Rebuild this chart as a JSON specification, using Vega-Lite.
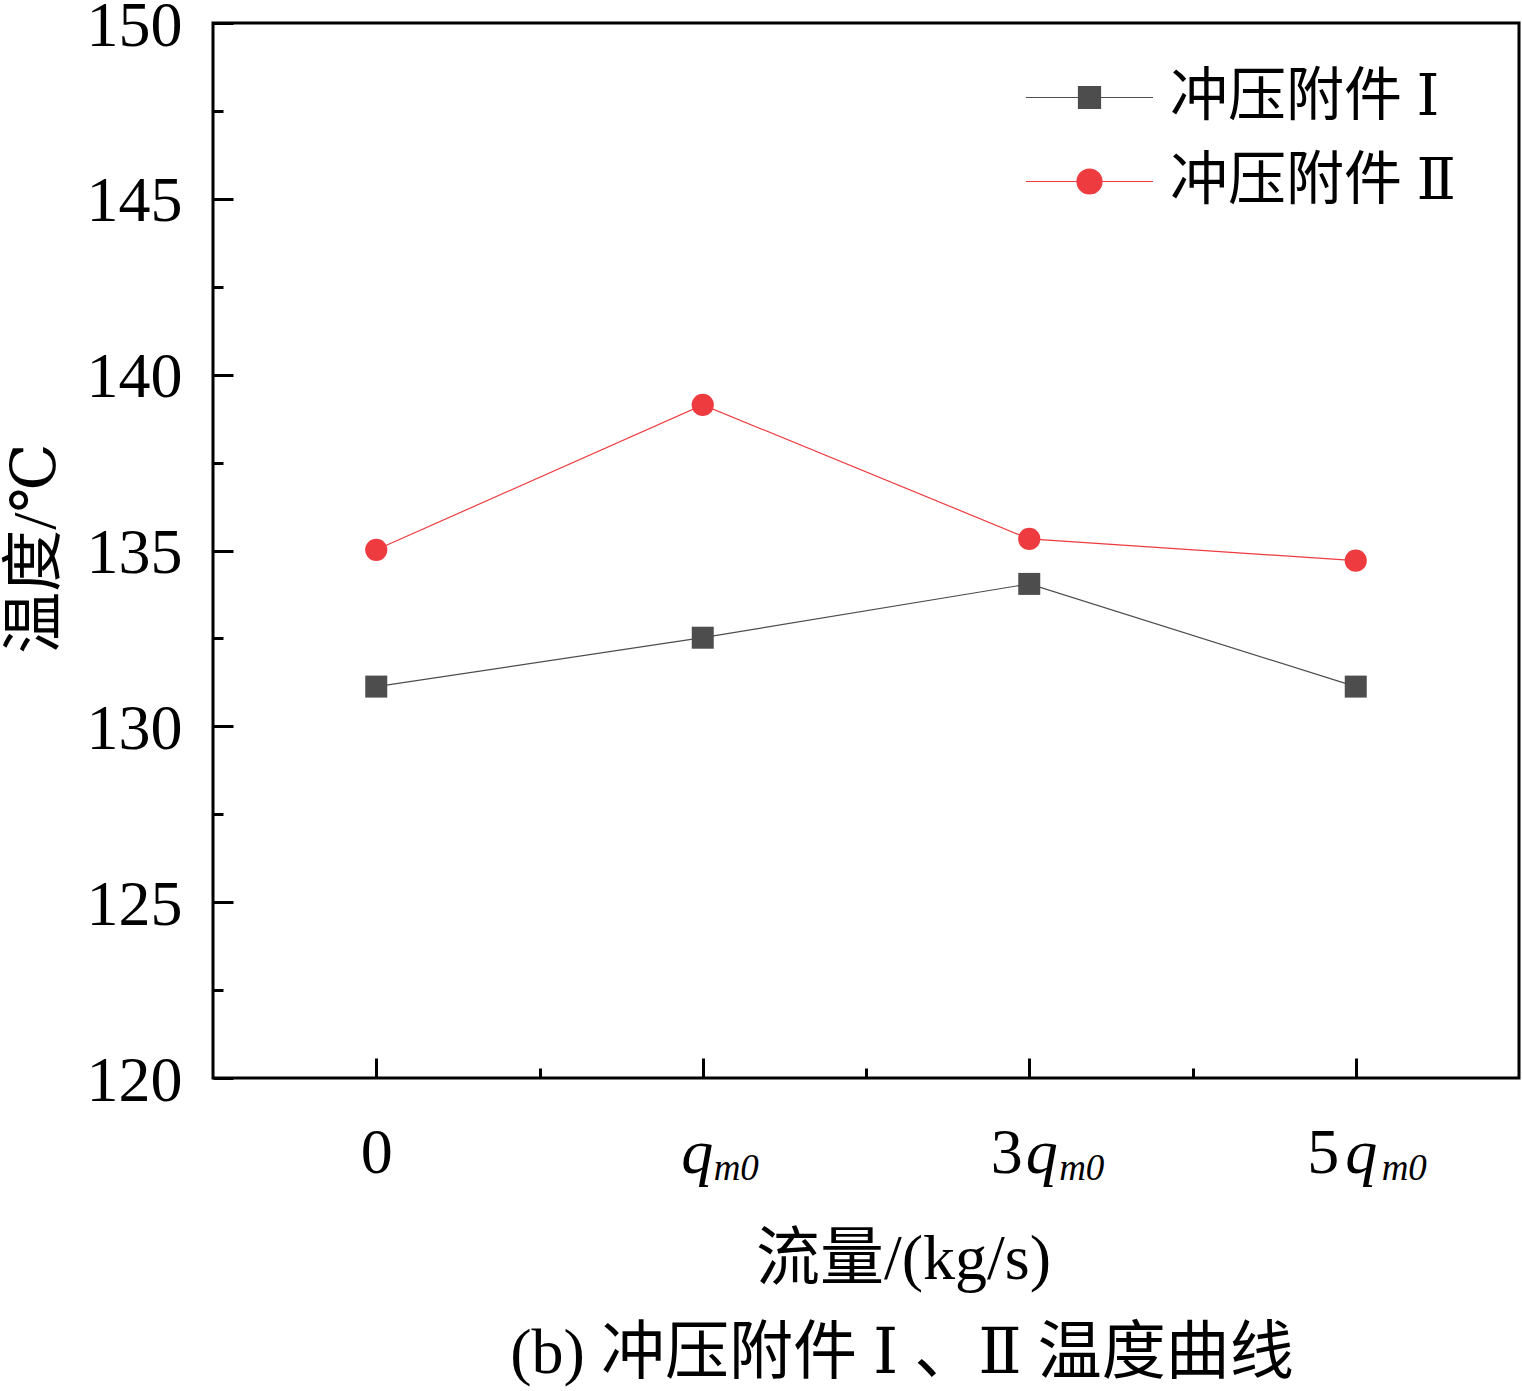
{
  "$schema": "https://vega.github.io/schema/vega-lite/v6.json",
  "width": 1306,
  "height": 1055,
  "autosize": "none",
  "padding": {"left": 213, "top": 23, "right": 3, "bottom": 313},
  "background": "white",
  "config": {
    "view": {"stroke": "black", "strokeWidth": 3},
    "axis": {"grid": false, "domain": false}
  },
  "title": {
    "text": "(b) 冲压附件 Ⅰ 、Ⅱ 温度曲线",
    "orient": "bottom",
    "anchor": "middle",
    "font": "Liberation Serif, DejaVu Serif, Noto Sans CJK SC",
    "fontSize": 64,
    "fontWeight": "normal",
    "color": "black",
    "offset": 31,
    "dx": 36
  },
  "data": {
    "values": [
      {"series": "冲压附件Ⅰ", "flow": "0", "idx": 0, "temp": 131.13},
      {"series": "冲压附件Ⅰ", "flow": "qm0", "idx": 1, "temp": 132.52},
      {"series": "冲压附件Ⅰ", "flow": "3qm0", "idx": 2, "temp": 134.05},
      {"series": "冲压附件Ⅰ", "flow": "5qm0", "idx": 3, "temp": 131.13},
      {"series": "冲压附件Ⅱ", "flow": "0", "idx": 0, "temp": 135.02},
      {"series": "冲压附件Ⅱ", "flow": "qm0", "idx": 1, "temp": 139.14},
      {"series": "冲压附件Ⅱ", "flow": "3qm0", "idx": 2, "temp": 135.33},
      {"series": "冲压附件Ⅱ", "flow": "5qm0", "idx": 3, "temp": 134.71}
    ]
  },
  "encoding": {
    "y": {
      "field": "temp",
      "type": "quantitative",
      "scale": {"domain": [120, 150], "nice": false, "zero": false},
      "axis": {
        "values": [120, 122.5, 125, 127.5, 130, 132.5, 135, 137.5, 140, 142.5, 145, 147.5, 150],
        "labelExpr": "datum.value % 5 === 0 ? datum.label : ''",
        "ticks": true,
        "tickColor": "black",
        "tickWidth": 3,
        "tickSize": {"condition": {"test": "datum.value % 5 !== 0", "value": -10}, "value": -20},
        "labelFont": "Liberation Serif",
        "labelFontSize": 64,
        "labelColor": "black",
        "labelPadding": 51,
        "labelOffset": 3,
        "labelFlush": false,
        "labelOverlap": false,
        "labelBound": false,
        "title": "温度/℃",
        "titleFont": "Liberation Serif, DejaVu Serif, Noto Sans CJK SC",
        "titleFontSize": 62,
        "titleFontWeight": "normal",
        "titleColor": "black",
        "titleAngle": -90,
        "titleBaseline": "middle",
        "titleAlign": "center",
        "titleX": -178,
        "titleY": 525
      }
    }
  },
  "layer": [
    {
      "mark": {"type": "line", "strokeWidth": 1.2},
      "encoding": {
        "x": {
          "field": "idx",
          "type": "quantitative",
          "scale": {"domain": [-0.5, 3.5], "nice": false, "zero": false},
          "axis": {
            "orient": "bottom",
            "values": [0, 0.5, 1, 1.5, 2, 2.5, 3],
            "ticks": true,
            "tickColor": "black",
            "tickWidth": 3,
            "tickSize": {"condition": {"test": "datum.value % 1 !== 0", "value": -10}, "value": -20},
            "labelExpr": "datum.value === 0 ? '0' : datum.value === 2 ? '3' : datum.value === 3 ? '5' : ''",
            "labelFont": "Liberation Serif",
            "labelFontSize": 64,
            "labelColor": "black",
            "labelBaseline": "alphabetic",
            "labelPadding": 114,
            "labelOffset": {
              "condition": [
                {"test": "datum.value === 2", "value": -23},
                {"test": "datum.value === 3", "value": -33}
              ],
              "value": 0
            },
            "labelFlush": false,
            "labelOverlap": false,
            "labelBound": false,
            "title": "流量/(kg/s)",
            "titleFont": "Liberation Serif, DejaVu Serif, Noto Sans CJK SC",
            "titleFontSize": 64,
            "titleFontWeight": "normal",
            "titleColor": "black",
            "titleBaseline": "alphabetic",
            "titleAlign": "center",
            "titleX": 690,
            "titleY": 200
          }
        },
        "color": {
          "field": "series",
          "type": "nominal",
          "scale": {"domain": ["冲压附件Ⅰ", "冲压附件Ⅱ"], "range": ["#4d4d4d", "#ee3b3f"]},
          "legend": {
            "title": null,
            "orient": "none",
            "legendX": 844,
            "legendY": 42,
            "padding": 0,
            "symbolSize": 4032,
            "symbolStrokeWidth": 1.2,
            "labelOffset": 48,
            "labelExpr": "replace(datum.label, /([ⅠⅡ])/, ' $1')",
            "labelFont": "Liberation Serif, DejaVu Serif, Noto Sans CJK SC",
            "labelFontSize": 58,
            "labelColor": "black",
            "labelLimit": 0,
            "rowPadding": 22,
            "encode": {
              "symbols": {
                "update": {
                  "shape": {"signal": "datum.value === '冲压附件Ⅰ' ? 'M-2,0H2M-0.347,-0.347H0.347V0.347H-0.347Z' : 'M-2,0H2M-0.394,0A0.394,0.394 0 1 0 0.394,0A0.394,0.394 0 1 0 -0.394,0Z'"},
                  "fill": {"signal": "datum.value === '冲压附件Ⅰ' ? '#4d4d4d' : '#ee3b3f'"},
                  "stroke": {"signal": "datum.value === '冲压附件Ⅰ' ? '#4d4d4d' : '#ee3b3f'"},
                  "strokeWidth": {"value": 1.2},
                  "opacity": {"value": 1}
                }
              }
            }
          }
        }
      }
    },
    {
      "transform": [{"filter": "datum.series === '冲压附件Ⅰ'"}],
      "mark": {"type": "point", "shape": "square", "filled": true, "size": 484, "color": "#4d4d4d", "opacity": 1},
      "encoding": {
        "x": {
          "field": "idx",
          "type": "quantitative",
          "scale": {"domain": [-0.5, 3.5], "nice": false, "zero": false},
          "axis": {
            "orient": "bottom",
            "values": [1, 2, 3],
            "ticks": false,
            "labelExpr": "'q'",
            "labelFont": "Liberation Serif",
            "labelFontStyle": "italic",
            "labelFontSize": 64,
            "labelColor": "black",
            "labelBaseline": "alphabetic",
            "labelPadding": 94,
            "labelOffset": {
              "condition": [
                {"test": "datum.value === 1", "value": -6},
                {"test": "datum.value === 2", "value": 12}
              ],
              "value": 5
            },
            "labelFlush": false,
            "labelOverlap": false,
            "labelBound": false,
            "title": null
          }
        }
      }
    },
    {
      "transform": [{"filter": "datum.series === '冲压附件Ⅱ'"}],
      "mark": {"type": "point", "shape": "circle", "filled": true, "size": 491, "color": "#ee3b3f", "opacity": 1},
      "encoding": {
        "x": {
          "field": "idx",
          "type": "quantitative",
          "scale": {"domain": [-0.5, 3.5], "nice": false, "zero": false},
          "axis": {
            "orient": "bottom",
            "values": [1, 2, 3],
            "ticks": false,
            "labelExpr": "'m0'",
            "labelFont": "Liberation Serif",
            "labelFontStyle": "italic",
            "labelFontSize": 37,
            "labelColor": "black",
            "labelBaseline": "alphabetic",
            "labelPadding": 101,
            "labelOffset": {
              "condition": [
                {"test": "datum.value === 1", "value": 33},
                {"test": "datum.value === 2", "value": 52}
              ],
              "value": 48
            },
            "labelFlush": false,
            "labelOverlap": false,
            "labelBound": false,
            "title": null
          }
        }
      }
    }
  ],
  "resolve": {"scale": {"x": "independent"}, "axis": {"x": "independent"}}
}
